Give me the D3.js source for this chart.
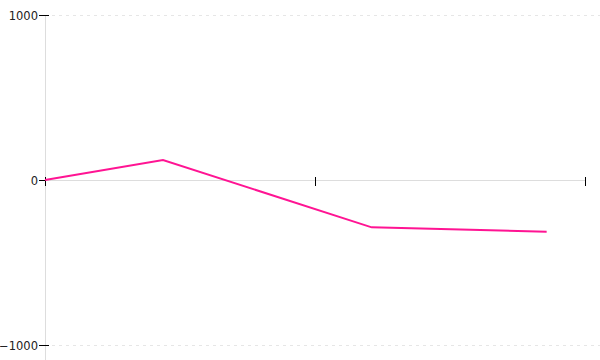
<!DOCTYPE html>
<html><head><meta charset="utf-8">
<script src="https://cdn.jsdelivr.net/npm/d3@7"></script>
<style>body{margin:0;background:#fff}svg{display:block}</style>
</head><body>
<svg id="c" width="600" height="360"></svg>
<script>
const xValues = [0, 0.437, 1.21, 1.858];
const yValues = [0, 121, -287, -313];
const xTicks = [0, 1, 2];
const yTicks = [-1000, 0, 1000];

const svg = d3.select("#c");
const x = d3.scaleLinear().domain([0, 2]).range([45, 585]);
const y = d3.scaleLinear().domain([-1000, 1000]).range([345, 15]);

// dashed gridlines at extremes
svg.selectAll("line.grid").data([1000, -1000]).join("line")
  .attr("x1", 52).attr("x2", 600)
  .attr("y1", d => y(d) + 0.5).attr("y2", d => y(d) + 0.5)
  .attr("stroke", "#e6e6e6").attr("stroke-dasharray", "3,4");

// y axis line
svg.append("line").attr("x1", 45.5).attr("x2", 45.5).attr("y1", 15).attr("y2", 360)
  .attr("stroke", "#ddd");
// x axis line at zero
svg.append("line").attr("x1", 45).attr("x2", 585).attr("y1", y(0) + 0.5).attr("y2", y(0) + 0.5)
  .attr("stroke", "#ddd");

// y ticks + labels
const fmt = d3.format("d");
const yt = svg.selectAll("g.yt").data(yTicks).join("g")
  .attr("transform", d => `translate(0,${y(d) + 0.5})`);
yt.append("line").attr("x1", 39).attr("x2", d => d === 0 ? 45 : 49).attr("stroke", "#000");
yt.append("text").attr("x", 38).attr("dy", "0.35em").attr("text-anchor", "end")
  .attr("font-family", "DejaVu Sans, sans-serif").attr("font-size", 11.5).attr("fill", "#222")
  .text(d => fmt(d).replace("-", "\u2212"));

// x ticks
svg.selectAll("line.xt").data(xTicks).join("line")
  .attr("x1", d => x(d) + 0.5).attr("x2", d => x(d) + 0.5)
  .attr("y1", y(0) - 3).attr("y2", y(0) + 6).attr("stroke", "#000");

// data line
svg.append("path").datum(xValues.map((v, i) => [v, yValues[i]]))
  .attr("d", d3.line().x(d => x(d[0])).y(d => y(d[1])))
  .attr("fill", "none").attr("stroke", "#ff1493").attr("stroke-width", 2);
</script>
</body></html>
